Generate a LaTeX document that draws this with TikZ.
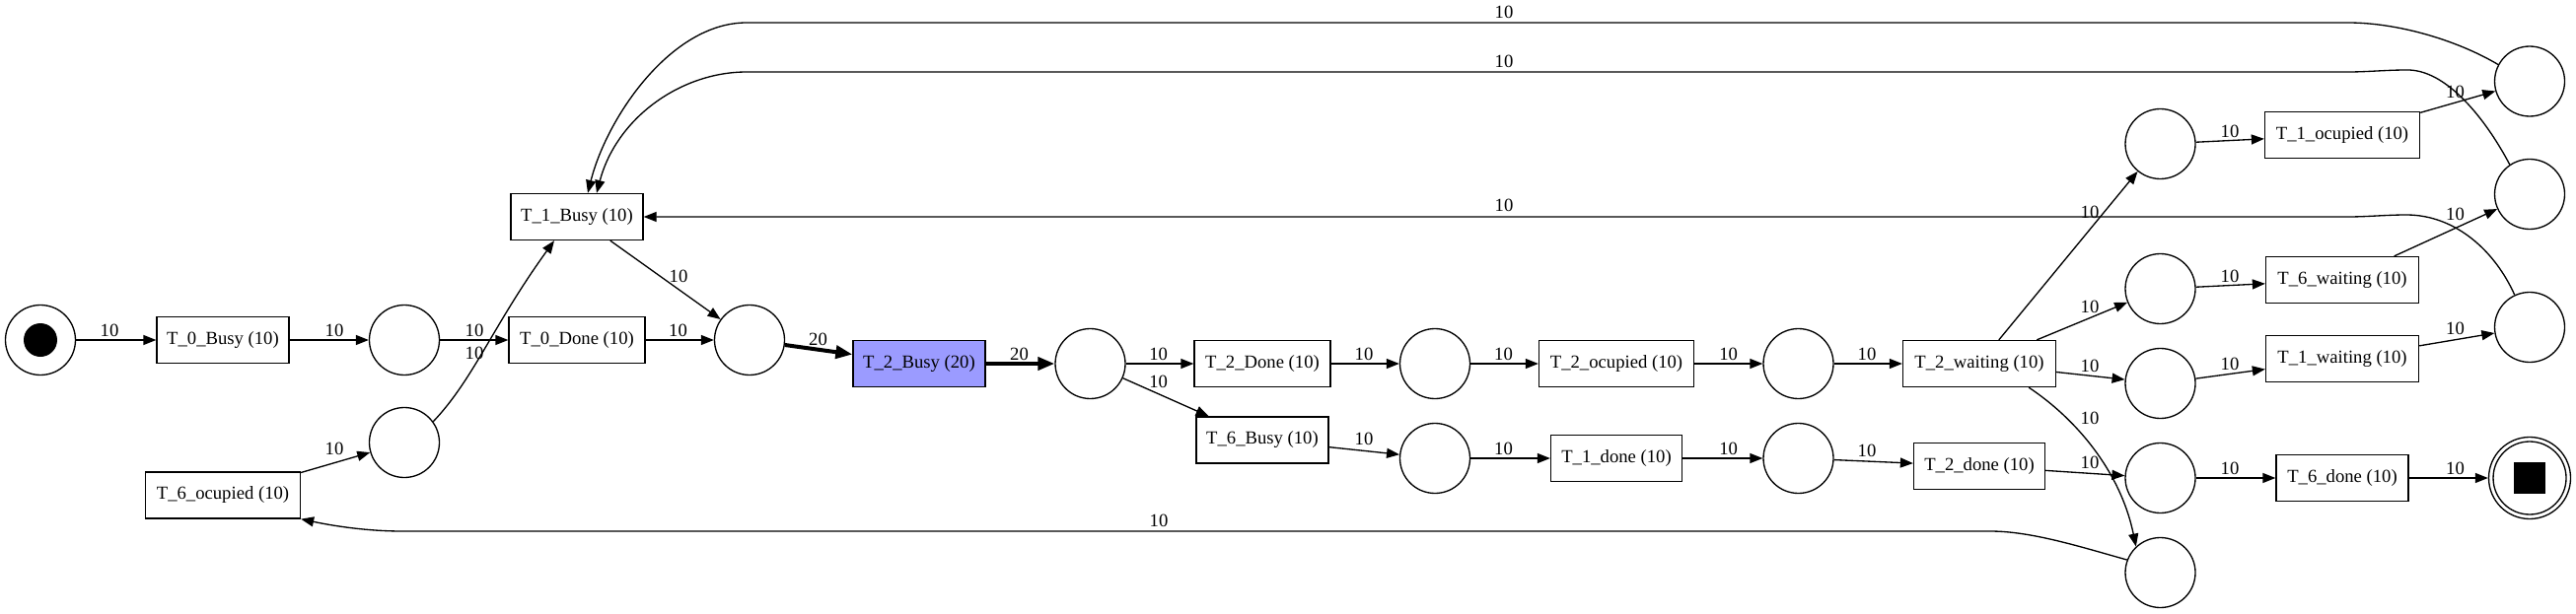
\documentclass[tikz,border=0pt]{standalone}
\usepackage{fontspec}
\setmainfont{Liberation Serif}
\usetikzlibrary{arrows.meta}
\definecolor{busyfill}{RGB}{155,155,255}
\begin{document}
\begin{tikzpicture}[x=1pt,y=-1pt,
  every node/.style={font=\fontsize{18.67}{22}\selectfont},
  trans/.style={draw, line width=1.33pt, rectangle, minimum height=47pt, inner sep=0pt},
  place/.style={draw, line width=1.33pt, circle, minimum size=71pt, inner sep=0pt},
  arc/.style={line width=1.33pt, -{Triangle[length=13pt,width=10pt]}},
  thickarc/.style={line width=4pt, -{Triangle[length=17pt,width=13pt]}},
  lbl/.style={inner sep=0pt}
]
\useasboundingbox (0,0) rectangle (2612,623);
% places
\node[place] (s0) at (41,345) {};
\node[circle, fill=black, minimum size=34pt, inner sep=0pt] (s0dot) at (41,345) {};
\node[place] (p1) at (410,345) {};
\node[place] (p2) at (410,449) {};
\node[place] (p3) at (760,345) {};
\node[place] (p4) at (1105.5,369) {};
\node[place] (p5) at (1455,369) {};
\node[place] (p6) at (1823.5,369) {};
\node[place] (p7) at (1455,465) {};
\node[place] (p8) at (1823.5,465) {};
\node[place] (q1) at (2190.5,146) {};
\node[place] (q2) at (2190.5,293) {};
\node[place] (q3) at (2190.5,389) {};
\node[place] (q4) at (2190.5,485) {};
\node[place] (q5) at (2190.5,581) {};
\node[place] (PA) at (2565,82.5) {};
\node[place] (PB) at (2565,197) {};
\node[place] (PC) at (2565,332) {};
\node[place, minimum size=83pt] (endo) at (2565,485) {};
\node[place, minimum size=74pt] (endi) at (2565,485) {};
\node[fill=black, minimum size=32pt, inner sep=0pt] (endsq) at (2565,485) {};
% transitions
\node[trans, minimum width=134pt] (T0B) at (226,345) {T\_0\_Busy (10)};
\node[trans, minimum width=138pt] (T0D) at (585,345) {T\_0\_Done (10)};
\node[trans, minimum width=134pt] (T1B) at (585,220) {T\_1\_Busy (10)};
\node[trans, minimum width=157pt] (T6O) at (226,502.5) {T\_6\_ocupied (10)};
\node[trans, minimum width=134pt, fill=busyfill] (T2B) at (932,369) {T\_2\_Busy (20)};
\node[trans, minimum width=138pt] (T2D) at (1280,369) {T\_2\_Done (10)};
\node[trans, minimum width=134pt] (T6B) at (1280,446.5) {T\_6\_Busy (10)};
\node[trans, minimum width=157pt] (T2O) at (1639,369) {T\_2\_ocupied (10)};
\node[trans, minimum width=155pt] (T2W) at (2007,369) {T\_2\_waiting (10)};
\node[trans, minimum width=133pt] (T1D) at (1639,465) {T\_1\_done (10)};
\node[trans, minimum width=133pt] (T2d) at (2007,473) {T\_2\_done (10)};
\node[trans, minimum width=157pt] (T1O) at (2375,137) {T\_1\_ocupied (10)};
\node[trans, minimum width=155pt] (T6W) at (2375,284) {T\_6\_waiting (10)};
\node[trans, minimum width=155pt] (T1W) at (2375,364) {T\_1\_waiting (10)};
\node[trans, minimum width=134pt] (T6D) at (2375,485) {T\_6\_done (10)};
% straight arcs
\draw[arc] (s0) -- (T0B);
\draw[arc] (T0B) -- (p1);
\draw[arc] (p1) -- (T0D);
\draw[arc] (T0D) -- (p3);
\draw[arc] (T6O) -- (p2);
\draw[arc] (p2.36) .. controls (480,385) and (500,330) .. ([xshift=-23pt]T1B.south);
\draw[arc] (T1B) -- (p3);
\draw[thickarc] (p3) -- (T2B);
\draw[thickarc] (T2B) -- (p4);
\draw[arc] (p4) -- (T2D);
\draw[arc] (p4) -- (T6B);
\draw[arc] (T2D) -- (p5);
\draw[arc] (T6B) -- (p7);
\draw[arc] (p5) -- (T2O);
\draw[arc] (T2O) -- (p6);
\draw[arc] (p6) -- (T2W);
\draw[arc] (p7) -- (T1D);
\draw[arc] (T1D) -- (p8);
\draw[arc] (p8) -- (T2d);
\draw[arc] (T2W) -- (q1);
\draw[arc] (T2W) -- (q2);
\draw[arc] (T2W) -- (q3);
\draw[arc] ([xshift=-28pt]T2W.south east) .. controls (2105,425) and (2150,478) .. (q5.133);
\draw[arc] (T2d) -- (q4);
\draw[arc] (q1) -- (T1O);
\draw[arc] (q2) -- (T6W);
\draw[arc] (q3) -- (T1W);
\draw[arc] (q4) -- (T6D);
\draw[arc] (T1O) -- (PA);
\draw[arc] (T6W) -- (PB);
\draw[arc] (T1W) -- (PC);
\draw[arc] (T6D) -- (endo);
% long return arcs
\draw[arc] (PA.152) .. controls (2490,40) and (2430,23) .. (2381,23) -- (757,23) .. controls (680,23) and (615,120) .. ([xshift=11pt]T1B.north);
\draw[arc] (PB.124) .. controls (2520,120) and (2480,70) .. (2440,71) .. controls (2420,71) and (2400,73) .. (2381,73) -- (757,73) .. controls (690,73) and (625,120) .. ([xshift=20pt]T1B.north);
\draw[arc] (PC.115) .. controls (2530,255) and (2490,218) .. (2440,218) .. controls (2420,218) and (2400,220) .. (2381,220) -- (T1B.east);
\draw[arc] (q5.159) .. controls (2110,555) and (2060,539) .. (2018,539) -- (408,539) .. controls (370,539) and (335,533) .. (T6O.south east);
% labels
\node[lbl] (l1) at (111,335) {10};
\node[lbl] (l2) at (339,335) {10};
\node[lbl] (l3) at (481,335) {10};
\node[lbl] (l4) at (481,358) {10};
\node[lbl] (l5) at (339,455) {10};
\node[lbl] (l6) at (687.5,335) {10};
\node[lbl] (l7) at (688,280) {10};
\node[lbl] (l8) at (829.5,344) {20};
\node[lbl] (l9) at (1033.5,359) {20};
\node[lbl] (l10) at (1174.6,359) {10};
\node[lbl] (l11) at (1174.6,387) {10};
\node[lbl] (l12) at (1383,359) {10};
\node[lbl] (l13) at (1383,445) {10};
\node[lbl] (l14) at (1524.5,359) {10};
\node[lbl] (l15) at (1752.7,359) {10};
\node[lbl] (l16) at (1893,359) {10};
\node[lbl] (l17) at (1524.5,455) {10};
\node[lbl] (l18) at (1752.7,455) {10};
\node[lbl] (l19) at (1893,457) {10};
\node[lbl] (l20) at (2119,215) {10};
\node[lbl] (l21) at (2119,311) {10};
\node[lbl] (l22) at (2119,371) {10};
\node[lbl] (l23) at (2119,424) {10};
\node[lbl] (l24) at (2119,469) {10};
\node[lbl] (l25) at (2261,133) {10};
\node[lbl] (l26) at (2261,280) {10};
\node[lbl] (l27) at (2261,369) {10};
\node[lbl] (l28) at (2261,475) {10};
\node[lbl] (l29) at (2489.5,93) {10};
\node[lbl] (l30) at (2489.5,217) {10};
\node[lbl] (l31) at (2489.5,333) {10};
\node[lbl] (l32) at (2489.5,475) {10};
\node[lbl] (l33) at (1525,12) {10};
\node[lbl] (l34) at (1525,62) {10};
\node[lbl] (l35) at (1525,208) {10};
\node[lbl] (l36) at (1175,528) {10};
\end{tikzpicture}
\end{document}
